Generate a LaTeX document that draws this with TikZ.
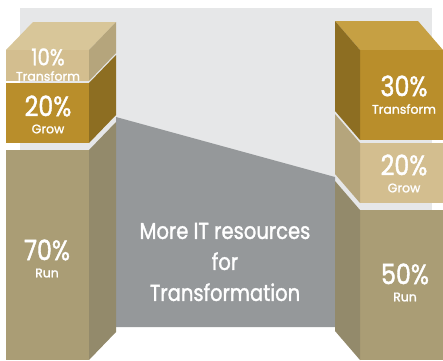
\documentclass[tikz,border=0pt]{standalone}
\usepackage{fontspec}
\newfontfamily\gothic{Poppins}[FakeStretch=0.85,FakeBold=1.4]
\newfontfamily\gothicsmall{Poppins}[FakeBold=1.4]
\definecolor{bglight}{HTML}{E6E7E8}
\definecolor{panelgray}{HTML}{95989A}
\definecolor{goldfront}{HTML}{B98E2B}
\definecolor{goldside}{HTML}{8D6E22}
\definecolor{goldtop}{HTML}{C6A043}
\definecolor{tanfront}{HTML}{D3BE8F}
\definecolor{tanside}{HTML}{B5A57C}
\definecolor{tantop}{HTML}{D8C699}
\definecolor{runfront}{HTML}{AA9D75}
\definecolor{runside}{HTML}{938A6B}
\tikzset{pct/.style={text=white, inner sep=0pt, font=\gothic\fontsize{28}{28}\selectfont},
  lbl/.style={text=white, inner sep=0pt, font=\gothicsmall\fontsize{12.5}{12.5}\selectfont},
  big/.style={text=white, inner sep=0pt, font=\gothic\fontsize{23}{31}\selectfont, align=center}}

\begin{document}
\begin{tikzpicture}[x=1pt,y=-1pt]
    \useasboundingbox (0,0) rectangle (443,360);
    % background and middle panel
    \fill[bglight] (20,8) rectangle (432,327);
    \fill[panelgray] (116,117) -- (335,177) -- (335,327) -- (116,327) -- cycle;
    % left column
    \fill[tantop] (6,50) -- (33,22) -- (116,22) -- (89,50) -- cycle;
    \fill[tanfront] (6,50) rectangle (89,81);
    \fill[tanside] (89,50) -- (116,22) -- (116,53) -- (89,81) -- cycle;
    \fill[goldfront] (6,83) rectangle (89,143);
    \fill[goldside] (89,83) -- (116,55) -- (116,115) -- (89,143) -- cycle;
    \fill[runfront] (6,150) rectangle (89,360);
    \fill[runside] (89,150) -- (116,122) -- (116,332) -- (89,360) -- cycle;
    % right column
    \fill[goldtop] (360,50) -- (335,21) -- (418,21) -- (443,50) -- cycle;
    \fill[goldfront] (360,50) rectangle (443,140);
    \fill[goldside] (335,21) -- (360,50) -- (360,140) -- (335,111) -- cycle;
    \fill[tanfront] (360,143) rectangle (443,203);
    \fill[tanside] (335,114) -- (360,143) -- (360,203) -- (335,174) -- cycle;
    \fill[runfront] (360,210) rectangle (443,360);
    \fill[runside] (335,181) -- (360,210) -- (360,360) -- (335,331) -- cycle;
    % labels
    \node[pct, font=\gothic\fontsize{23}{23}\selectfont] (lt) at (48,57) {10\%};
    \node[lbl] (ltl) at (48,76) {Transform};
    \node[pct] (lg) at (48,106) {20\%};
    \node[lbl] (lgl) at (48,129) {Grow};
    \node[pct] (lr) at (47,250) {70\%};
    \node[lbl] (lrl) at (47,273) {Run};
    \node[pct] (rt) at (404,86) {30\%};
    \node[lbl] (rtl) at (404,109) {Transform};
    \node[pct] (rg) at (404,165) {20\%};
    \node[lbl] (rgl) at (404,188) {Grow};
    \node[pct] (rr) at (405,274) {50\%};
    \node[lbl] (rrl) at (405,297) {Run};
    \node[big] (msg) at (225,262) {More IT resources\\for\\Transformation};
\end{tikzpicture}
\end{document}
